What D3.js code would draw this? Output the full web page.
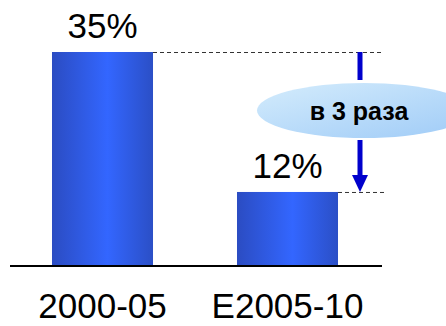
<!DOCTYPE html>
<html lang="ru">
<head>
<meta charset="utf-8">
<title>в 3 раза</title>
<script src="https://cdn.jsdelivr.net/npm/d3@7"></script>
<style>
body { margin: 0; background: #fff; }
text { font-family: Arial, "Liberation Sans", sans-serif; fill: #000; }
</style>
</head>
<body>
<div id="chart"></div>
<script>
// data
var categories = ["2000-05", "E2005-10"];
var values = [35, 12];
var valueLabels = ["35%", "12%"];
var ratioLabel = "в 3 раза";

var width = 446, height = 326;

var svg = d3.select("#chart").append("svg")
    .attr("width", width)
    .attr("height", height);

var defs = svg.append("defs");
var barGrad = defs.append("linearGradient").attr("id", "barGrad")
    .attr("x1", "0%").attr("x2", "100%").attr("y1", "0%").attr("y2", "0%");
barGrad.append("stop").attr("offset", "0%").attr("stop-color", "#2b4cc2");
barGrad.append("stop").attr("offset", "55%").attr("stop-color", "#3366ff");
barGrad.append("stop").attr("offset", "100%").attr("stop-color", "#2b4fc6");

var ellGrad = defs.append("linearGradient").attr("id", "ellGrad")
    .attr("x1", "0%").attr("x2", "100%").attr("y1", "0%").attr("y2", "100%");
ellGrad.append("stop").attr("offset", "0%").attr("stop-color", "#d4ecfc");
ellGrad.append("stop").attr("offset", "100%").attr("stop-color", "#9fcbf7");

var x = d3.scaleBand()
    .domain(categories)
    .range([10, 380])
    .paddingInner(0.454)
    .paddingOuter(0.227);

var y = d3.scaleLinear()
    .domain([0, 35])
    .range([265, 52]);

// bars
svg.selectAll("rect.bar")
    .data(values)
    .enter().append("rect")
    .attr("class", "bar")
    .attr("x", function(d, i) { return x(categories[i]); })
    .attr("y", function(d) { return y(d); })
    .attr("width", x.bandwidth())
    .attr("height", function(d) { return y(0) - y(d); })
    .attr("fill", "url(#barGrad)");

// value labels
svg.selectAll("text.val")
    .data(values)
    .enter().append("text")
    .attr("class", "val")
    .attr("x", function(d, i) { return x(categories[i]) + x.bandwidth() / 2; })
    .attr("y", function(d) { return y(d) - 14; })
    .attr("text-anchor", "middle")
    .style("font-size", "35px")
    .text(function(d, i) { return valueLabels[i]; });

// baseline
svg.append("line")
    .attr("x1", 10).attr("x2", 382)
    .attr("y1", y(0) + 1).attr("y2", y(0) + 1)
    .attr("stroke", "#000").attr("stroke-width", 2);

// category labels
svg.selectAll("text.cat")
    .data(categories)
    .enter().append("text")
    .attr("class", "cat")
    .attr("x", function(d) { return x(d) + x.bandwidth() / 2; })
    .attr("y", 318)
    .attr("text-anchor", "middle")
    .style("font-size", "35px")
    .text(function(d) { return d; });

// dashed guides
svg.selectAll("line.guide")
    .data(values)
    .enter().append("line")
    .attr("class", "guide")
    .attr("x1", function(d, i) { return x(categories[i]) + x.bandwidth(); })
    .attr("x2", 384)
    .attr("y1", function(d) { return y(d) + 0.5; })
    .attr("y2", function(d) { return y(d) + 0.5; })
    .attr("stroke", "#333").attr("stroke-width", 1)
    .attr("stroke-dasharray", "4,3");

// arrow
var ax = 360;
svg.append("line")
    .attr("x1", ax).attr("x2", ax)
    .attr("y1", y(values[0])).attr("y2", 80)
    .attr("stroke", "#0000cc").attr("stroke-width", 5);
svg.append("line")
    .attr("x1", ax).attr("x2", ax)
    .attr("y1", 140).attr("y2", y(values[1]) - 16)
    .attr("stroke", "#0000cc").attr("stroke-width", 5);
svg.append("path")
    .attr("d", "M" + (ax - 8) + "," + (y(values[1]) - 17) + "L" + (ax + 8) + "," + (y(values[1]) - 17) + "L" + ax + "," + y(values[1]) + "Z")
    .attr("fill", "#0000cc");

// ellipse with ratio
svg.append("ellipse")
    .attr("cx", 364).attr("cy", 110.5)
    .attr("rx", 107).attr("ry", 27.5)
    .attr("fill", "url(#ellGrad)");
svg.append("text")
    .attr("x", 359).attr("y", 120)
    .attr("text-anchor", "middle")
    .style("font-size", "25px")
    .style("font-weight", "bold")
    .text(ratioLabel);
</script>
</body>
</html>
